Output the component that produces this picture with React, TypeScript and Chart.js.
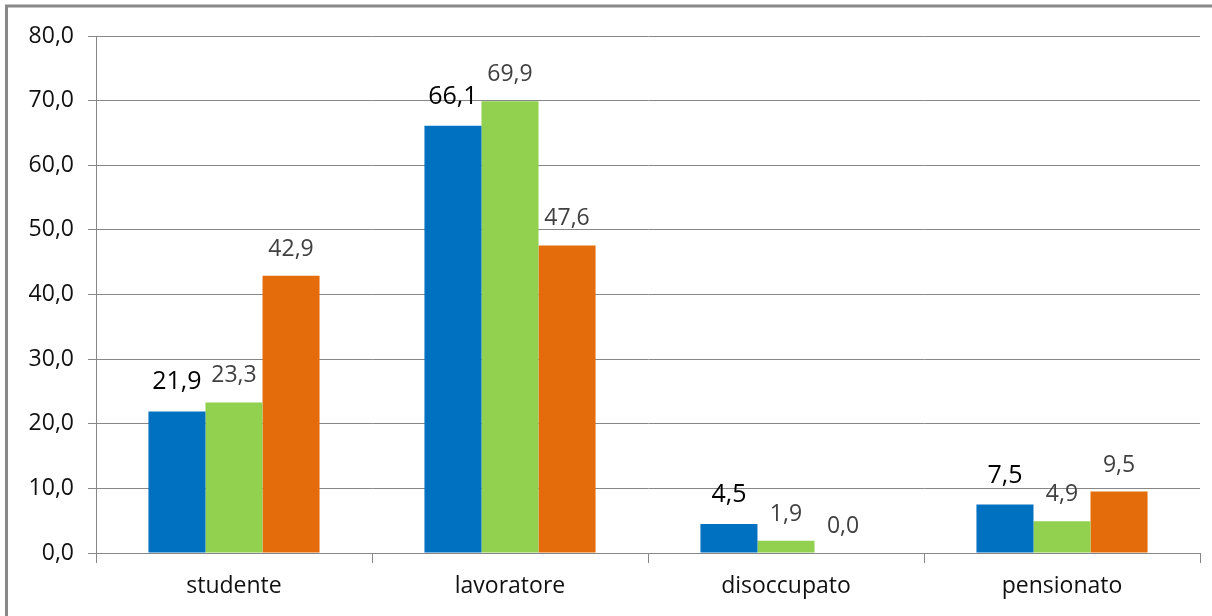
import { useEffect, useRef } from "react";
import { Chart, registerables } from "chart.js";

Chart.register(...registerables);

const categories = ["studente", "lavoratore", "disoccupato", "pensionato"];
const seriesBlue = [21.9, 66.1, 4.5, 7.5];
const seriesGreen = [23.3, 69.9, 1.9, 4.9];
const seriesOrange = [42.9, 47.6, 0.0, 9.5];
const yMin = 0;
const yMax = 80;
const yStep = 10;

const fmt = (v: number) => v.toFixed(1).replace(".", ",");

const FONT = '"Open Sans", "DejaVu Sans", sans-serif';
const GRID = "#878787";

const labelPlugin = {
  id: "barLabels",
  afterDatasetsDraw(chart: any) {
    const ctx = chart.ctx;
    chart.data.datasets.forEach((ds: any, i: number) => {
      const meta = chart.getDatasetMeta(i);
      meta.data.forEach((bar: any, j: number) => {
        const v = ds.data[j] as number;
        ctx.save();
        ctx.font = i === 0 ? `25px ${FONT}` : `23px ${FONT}`;
        ctx.fillStyle = i === 0 ? "#000000" : "#404040";
        ctx.textAlign = "center";
        ctx.textBaseline = "alphabetic";
        ctx.fillText(fmt(v), bar.x, bar.y - (i === 0 ? 22 : 20));
        ctx.restore();
      });
    });
  },
};

const borderPlugin = {
  id: "outerBorder",
  beforeDraw(chart: any) {
    const ctx = chart.ctx;
    ctx.save();
    ctx.fillStyle = "#ffffff";
    ctx.fillRect(0, 0, chart.width, chart.height);
    ctx.strokeStyle = "#898989";
    ctx.lineWidth = 3;
    ctx.beginPath();
    ctx.moveTo(6.5, chart.height);
    ctx.lineTo(6.5, 6);
    ctx.lineTo(chart.width, 6);
    ctx.stroke();
    ctx.restore();
  },
};

export default function App() {
  const ref = useRef<HTMLCanvasElement>(null);

  useEffect(() => {
    if (!ref.current) return;
    const chart = new Chart(ref.current, {
      type: "bar",
      data: {
        labels: categories,
        datasets: [
          { label: "Serie 1", data: seriesBlue, backgroundColor: "#0070C0" },
          { label: "Serie 2", data: seriesGreen, backgroundColor: "#92D050" },
          { label: "Serie 3", data: seriesOrange, backgroundColor: "#E46C0A" },
        ],
      },
      options: {
        responsive: false,
        animation: false,
        layout: { padding: { top: 36, right: 12, left: 0, bottom: 0 } },
        datasets: {
          bar: { categoryPercentage: 0.62, barPercentage: 1.0, borderWidth: 0 },
        },
        plugins: {
          legend: { display: false },
          tooltip: { enabled: false },
        },
        scales: {
          x: {
            offset: true,
            grid: {
              offset: true,
              drawOnChartArea: false,
              drawTicks: true,
              tickLength: 10,
              color: GRID,
            },
            border: { color: GRID, width: 1 },
            ticks: {
              padding: 10,
              color: "#111111",
              font: { family: FONT, size: 23 },
            },
            afterFit: (scale: any) => {
              scale.height = 63;
            },
          },
          y: {
            min: yMin,
            max: yMax,
            grid: { color: GRID, tickLength: 8, lineWidth: 1 },
            border: { color: GRID, width: 1 },
            ticks: {
              stepSize: yStep,
              padding: 14,
              color: "#111111",
              font: { family: FONT, size: 23 },
              callback: (v: any) => fmt(Number(v)),
            },
            afterFit: (scale: any) => {
              scale.width = 96;
            },
          },
        },
      },
      plugins: [borderPlugin, labelPlugin],
    });
    return () => chart.destroy();
  }, []);

  return (
    <div style={{ position: "fixed", left: 0, top: 0, width: 1212, height: 616 }}>
      <canvas ref={ref} width={1212} height={616} style={{ display: "block" }} />
    </div>
  );
}
